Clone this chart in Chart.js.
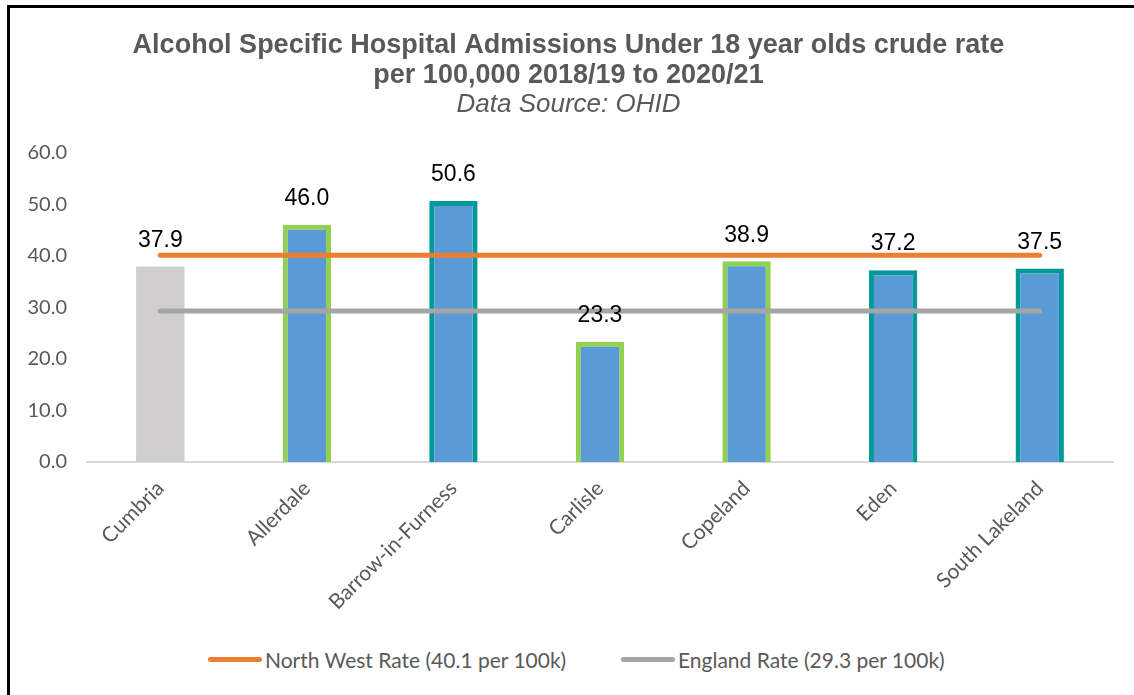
<!DOCTYPE html>
<html>
<head>
<meta charset="utf-8">
<script src="https://cdn.jsdelivr.net/npm/chart.js"></script>
<style>
  body { margin: 0; background: #fff; }
  #frame {
    position: absolute; left: 7px; top: 5px; width: 1127px; height: 690px;
    border-top: 3px solid #000; border-left: 3px solid #000;
  }
  #wrap { position: absolute; left: 0; top: 0; width: 1124px; height: 620px; }
  #legend {
    position: absolute; left: 0; top: 639px; width: 1124px; height: 26px;
    font: 21px Lato, sans-serif; color: #595959;
  }
  #legend .item { position: absolute; top: 0; display: flex; align-items: center; white-space: nowrap; }
  #legend .swatch { width: 54px; height: 5px; border-radius: 3px; margin-right: 3px; flex: none; }
</style>
</head>
<body>
<div id="frame">
  <div id="wrap"><canvas id="admChart"></canvas></div>
  <div id="legend"></div>
</div>
<script>
  // areas and rates (crude rate per 100,000)
  const areas = ['Cumbria', 'Allerdale', 'Barrow-in-Furness', 'Carlisle', 'Copeland', 'Eden', 'South Lakeland'];
  const rates = [37.9, 46.0, 50.6, 23.3, 38.9, 37.2, 37.5];
  const northWestRate = 40.1;
  const englandRate = 29.3;
  const yTicks = [0, 10, 20, 30, 40, 50, 60];

  const fills = ['#D0CECE', '#5B9BD5', '#5B9BD5', '#5B9BD5', '#5B9BD5', '#5B9BD5', '#5B9BD5'];
  const edges = ['#D0CECE', '#92D050', '#009999', '#92D050', '#92D050', '#009999', '#009999'];
  const edgeWidths = [0, 5, 5, 5, 5, 5, 5];

  const valueLabels = {
    id: 'valueLabels',
    afterDatasetsDraw(chart) {
      const ctx = chart.ctx;
      const meta = chart.getDatasetMeta(2);
      ctx.save();
      ctx.font = '23px "Liberation Sans", Arial, sans-serif';
      ctx.fillStyle = '#000';
      ctx.textAlign = 'center';
      ctx.textBaseline = 'middle';
      meta.data.forEach((bar, i) => {
        ctx.fillText(rates[i].toFixed(1), bar.x, bar.y - 26);
      });
      ctx.restore();
    }
  };

  const ctx = document.getElementById('admChart');
  const admChart = new Chart(ctx, {
    data: {
      labels: areas,
      datasets: [
        {
          type: 'line',
          label: 'North West Rate (' + northWestRate + ' per 100k)',
          data: areas.map(() => northWestRate),
          borderColor: '#ED7D31',
          backgroundColor: '#ED7D31',
          borderWidth: 5,
          borderCapStyle: 'round',
          pointRadius: 0,
          order: 1
        },
        {
          type: 'line',
          label: 'England Rate (' + englandRate + ' per 100k)',
          data: areas.map(() => englandRate),
          borderColor: '#A5A5A5',
          backgroundColor: '#A5A5A5',
          borderWidth: 5,
          borderCapStyle: 'round',
          pointRadius: 0,
          order: 1
        },
        {
          type: 'bar',
          label: 'Rate',
          data: rates,
          backgroundColor: fills,
          borderColor: edges,
          borderWidth: edgeWidths,
          barPercentage: 0.33,
          categoryPercentage: 1,
          order: 2
        }
      ]
    },
    options: {
      responsive: true,
      maintainAspectRatio: false,
      animation: false,
      layout: { padding: { left: 14, right: 21, top: 0, bottom: 0 } },
      plugins: {
        legend: { display: false },
        tooltip: { enabled: false },
        title: {
          display: true,
          text: ['Alcohol Specific Hospital Admissions Under 18 year olds crude rate',
                 'per 100,000 2018/19 to 2020/21'],
          color: '#595959',
          font: { family: '"Liberation Sans", Arial, sans-serif', size: 27, weight: 'bold', lineHeight: 1.11 },
          padding: { top: 23, bottom: 0 }
        },
        subtitle: {
          display: true,
          text: 'Data Source: OHID',
          color: '#595959',
          font: { family: '"Liberation Sans", Arial, sans-serif', size: 26, style: 'italic', lineHeight: 1.1 },
          padding: { top: 0, bottom: 33 }
        }
      },
      scales: {
        x: {
          grid: { display: false },
          border: { color: '#D9D9D9', width: 2 },
          ticks: {
            color: '#595959',
            font: { family: 'Lato, sans-serif', size: 21 },
            minRotation: 45,
            maxRotation: 45,
            padding: 6
          },
          afterFit(scale) { scale.height = 166; }
        },
        y: {
          min: 0,
          max: 60,
          grid: { display: false },
          border: { display: false },
          afterBuildTicks(scale) { scale.ticks = yTicks.map(v => ({ value: v })); },
          ticks: {
            color: '#595959',
            font: { family: 'Lato, sans-serif', size: 20 },
            padding: 12,
            callback: v => v.toFixed(1)
          },
          afterFit(scale) { scale.width = 63; }
        }
      }
    },
    plugins: [valueLabels]
  });

  // legend built from the line datasets
  const legendBox = document.getElementById('legend');
  const legendLeft = [198, 611];
  admChart.data.datasets.filter(d => d.type === 'line').forEach((d, i) => {
    const item = document.createElement('div');
    item.className = 'item';
    item.style.left = legendLeft[i] + 'px';
    const sw = document.createElement('span');
    sw.className = 'swatch';
    sw.style.background = d.borderColor;
    const txt = document.createElement('span');
    txt.textContent = d.label;
    item.appendChild(sw);
    item.appendChild(txt);
    legendBox.appendChild(item);
  });
</script>
</body>
</html>
